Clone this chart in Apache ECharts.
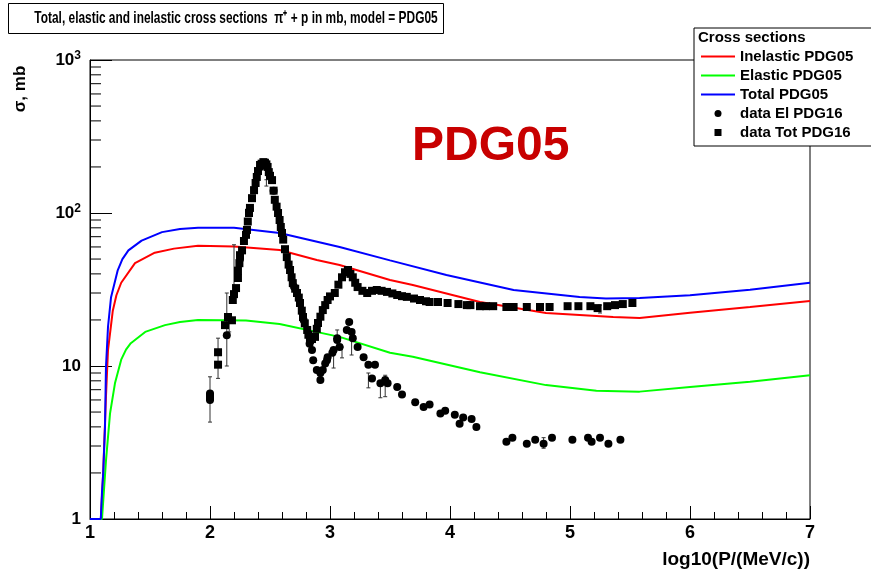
<!DOCTYPE html>
<html>
<head>
<meta charset="UTF-8">
<title>pi+ p cross sections PDG05</title>
<script src="https://cdn.jsdelivr.net/npm/echarts@6.0.0/dist/echarts.min.js"></script>
<style>
  html, body { margin: 0; padding: 0; background: #fff; }
  #chart { width: 871px; height: 578px; }
</style>
</head>
<body>
<div id="chart"></div>
<script>
// model curves [log10(P), sigma mb]
var inelastic = [[1.0, 1], [1.09, 1], [1.11, 2], [1.133, 6.3], [1.15, 12.7], [1.19, 23], [1.22, 29], [1.26, 35],
  [1.375, 47], [1.54, 55], [1.7, 58.5], [1.9, 61], [2.2, 60.5], [2.58, 57.3], [2.89, 49.3], [3.08, 45.7],
  [3.22, 42.4], [3.5, 36.5], [3.69, 33.8], [4.25, 26.2], [4.8, 22.2], [5.36, 20.9], [5.58, 20.6],
  [6.0, 22.3], [6.5, 24.3], [7.0, 26.6]];
var elastic = [[1.0, 1], [1.1, 1], [1.133, 2.4], [1.167, 4.9], [1.208, 7.7], [1.26, 11], [1.3, 12.8], [1.34, 14.1],
  [1.46, 16.7], [1.625, 18.5], [1.75, 19.4], [1.9, 20], [2.3, 19.8], [2.58, 18.8], [3.08, 15.5], [3.5, 12.2],
  [3.69, 11.5], [4.25, 9.1], [4.8, 7.5], [5.22, 6.9], [5.58, 6.8], [6.0, 7.3], [6.5, 7.9], [7.0, 8.7]];
var total = [[1.0, 1], [1.09, 1], [1.1, 1.5], [1.11, 2.0], [1.125, 4.0], [1.133, 9.8], [1.15, 18],
  [1.175, 28], [1.23, 42], [1.27, 50], [1.32, 57], [1.43, 66], [1.6, 75], [1.75, 78.5], [1.9, 80], [2.2, 80], [2.58, 74],
  [3.08, 60], [3.5, 49], [3.97, 39.3], [4.53, 31.4], [5.08, 28.2], [5.3, 27.6], [5.58, 27.8],
  [6.0, 29], [6.5, 31.5], [7.0, 35]];

// measured points
var dataTot = [[2.0, 6.3], [2.067, 10.2], [2.067, 12.3], [2.125, 18.5], [2.15, 20.9], [2.183, 19.9],
  [2.19, 27], [2.2, 29.5], [2.217, 32.3], [2.233, 37.6], [2.233, 42], [2.245, 47], [2.25, 53],
  [2.267, 57], [2.283, 65.6], [2.3, 72], [2.308, 77.5], [2.315, 88], [2.325, 100], [2.333, 108],
  [2.35, 125], [2.367, 141], [2.38, 157], [2.39, 172], [2.4, 188], [2.417, 206], [2.43, 210],
  [2.445, 215], [2.458, 213], [2.47, 208], [2.48, 200], [2.49, 185], [2.5, 175], [2.517, 164],
  [2.53, 140], [2.54, 122], [2.555, 110], [2.567, 100], [2.58, 90], [2.59, 81], [2.6, 74],
  [2.61, 67], [2.625, 58], [2.64, 51.5], [2.655, 46], [2.667, 42.4], [2.68, 38], [2.69, 34.8],
  [2.71, 32], [2.725, 30], [2.74, 28], [2.75, 25.8], [2.765, 23], [2.775, 20.9], [2.79, 19],
  [2.81, 17.2], [2.82, 16], [2.833, 14.8], [2.85, 15], [2.875, 15.5], [2.89, 17.5], [2.9, 19.1],
  [2.92, 21], [2.94, 23.2], [2.96, 25], [2.98, 27], [3.0, 28.5], [3.04, 30], [3.07, 34], [3.1, 38],
  [3.125, 41], [3.15, 42.4], [3.17, 40], [3.19, 38], [3.21, 35], [3.23, 32.8], [3.27, 31],
  [3.31, 30], [3.35, 31], [3.39, 31.4], [3.43, 31], [3.475, 30.5], [3.52, 29.8], [3.56, 29.1],
  [3.6, 28.6], [3.64, 28.3], [3.7, 27.6], [3.75, 27], [3.8, 26.5], [3.83, 26.2], [3.9, 26.2],
  [3.98, 25.8], [4.07, 25.4], [4.14, 25], [4.17, 25], [4.25, 24.6], [4.3, 24.6], [4.36, 24.6],
  [4.47, 24.3], [4.53, 24.3], [4.64, 24.3], [4.75, 24.3], [4.83, 24.3], [4.98, 24.6], [5.07, 24.6],
  [5.17, 24.6], [5.23, 23.9], [5.31, 24.6], [5.375, 25], [5.44, 25.4], [5.52, 25.8]];
var dataEl = [[2.0, 6.0], [2.0, 6.6], [2.14, 15.9], [2.25, 50], [2.33, 105], [2.42, 200], [2.47, 205],
  [2.53, 140], [2.6, 75], [2.7, 33], [2.78, 20], [2.83, 14], [2.85, 12.7], [2.86, 10.9], [2.89, 9.4],
  [2.92, 8.1], [2.92, 9], [2.94, 9.4], [2.96, 10.4], [2.975, 10.9], [2.98, 11.4], [3.02, 12.2],
  [3.03, 12.7], [3.06, 14.8], [3.06, 15.2], [3.08, 13.3], [3.14, 17.2], [3.16, 19.4], [3.18, 16.7],
  [3.19, 15.2], [3.23, 13.3], [3.28, 11.4], [3.32, 10.2], [3.35, 8.3], [3.375, 10.2], [3.42, 7.7],
  [3.46, 8.1], [3.48, 7.7], [3.56, 7.3], [3.6, 6.5], [3.71, 5.8], [3.78, 5.4], [3.83, 5.6],
  [3.92, 4.9], [3.96, 5.1], [4.04, 4.8], [4.08, 4.2], [4.11, 4.6], [4.18, 4.5], [4.22, 4.0],
  [4.47, 3.2], [4.52, 3.4], [4.64, 3.1], [4.71, 3.3], [4.78, 3.1], [4.85, 3.4], [5.02, 3.3],
  [5.15, 3.4], [5.18, 3.2], [5.25, 3.4], [5.32, 3.1], [5.42, 3.3]];
// [x, low, high]
var errBars = [[2.0, 4.3, 8.5], [2.067, 8.3, 15.2], [2.14, 10, 30], [2.16, 16.7, 22], [2.2, 30, 62],
  [2.47, 150, 165], [3.03, 9.7, 12.7], [3.06, 13.3, 17.2], [3.1, 11.3, 13.3], [3.18, 11.8, 15.2],
  [3.32, 7.2, 9.0], [3.42, 6.2, 7.9], [3.46, 6.3, 8.7], [4.78, 2.9, 3.4], [5.25, 22.2, 25]];

var yMinor = [2, 3, 4, 5, 6, 7, 8, 9, 20, 30, 40, 50, 60, 70, 80, 90, 200, 300, 400, 500, 600, 700, 800, 900];

var FONT = 'Liberation Sans';
var chart = echarts.init(document.getElementById('chart'));

function lineSeries(name, data, color) {
  return {
    name: name, type: 'line', data: data, symbol: 'none', smooth: false,
    lineStyle: { color: color, width: 2 }, itemStyle: { color: color },
    z: 3
  };
}
var hideSym = { opacity: 0 };

chart.setOption({
  animation: false,
  grid: { left: 90, right: 61, top: 60, bottom: 59, show: true, borderColor: '#000', borderWidth: 1 },
  xAxis: {
    type: 'value', min: 1, max: 7, interval: 1,
    axisLine: { lineStyle: { color: '#000' } },
    axisTick: { inside: true, length: 13, lineStyle: { color: '#000' } },
    minorTick: { show: true, splitNumber: 5, length: 7, lineStyle: { color: '#000' } },
    splitLine: { show: false },
    axisLabel: { color: '#000', fontFamily: FONT, fontWeight: 'bold', fontSize: 18, margin: 5 }
  },
  yAxis: {
    type: 'log', logBase: 10, min: 1, max: 1000,
    axisLine: { lineStyle: { color: '#000' } },
    axisTick: { inside: true, length: 22, lineStyle: { color: '#000' } },
    splitLine: { show: false },
    axisLabel: {
      color: '#000', fontFamily: FONT, fontWeight: 'bold', fontSize: 17, margin: 9,
      formatter: function (v) {
        if (v === 100) return '10{s|2}';
        if (v === 1000) return '10{s|3}';
        return String(Math.round(v));
      },
      rich: { s: { fontSize: 12, fontWeight: 'bold', fontFamily: FONT, verticalAlign: 'top', padding: [0, 0, 8, 0] } }
    }
  },
  legend: {
    left: 694, top: 28, orient: 'vertical',
    padding: [21, 30, 6, 6],
    borderColor: '#000', borderWidth: 1, backgroundColor: '#fff',
    itemWidth: 34, itemHeight: 7, itemGap: 4,
    textStyle: { color: '#000', fontFamily: FONT, fontWeight: 'bold', fontSize: 15, lineHeight: 15 },
    data: [
      { name: 'Inelastic PDG05', itemStyle: hideSym },
      { name: 'Elastic PDG05', itemStyle: hideSym },
      { name: 'Total PDG05', itemStyle: hideSym },
      { name: 'data El PDG16', icon: 'circle' },
      { name: 'data Tot PDG16', icon: 'path://M0,0h10v10h-10z' }
    ]
  },
  graphic: [
    { type: 'rect', left: 8, top: 3, shape: { width: 435, height: 30 },
      style: { fill: '#fff', stroke: '#000', lineWidth: 1 }, z: 10 },
    { type: 'text', x: 236, y: 18, scaleX: 0.7, z: 11,
      style: { text: 'Total, elastic and inelastic cross sections  \u03c0\u207a + p in mb, model = PDG05',
        fill: '#000', font: 'bold 17px ' + FONT, align: 'center', verticalAlign: 'middle' } },
    { type: 'text', x: 698, y: 38, z: 20,
      style: { text: 'Cross sections', fill: '#000', font: 'bold 15px ' + FONT, verticalAlign: 'middle' } },
    { type: 'text', x: 412, y: 147, z: 5,
      style: { text: 'PDG05', fill: '#c80000', font: 'bold 48px ' + FONT, verticalAlign: 'middle' } },
    { type: 'text', x: 810, y: 560, z: 5,
      style: { text: 'log10(P/(MeV/c))', fill: '#000', font: 'bold 19px ' + FONT, align: 'right', verticalAlign: 'middle' } },
    { type: 'text', x: 20, y: 89, rotation: Math.PI / 2, z: 5,
      style: { text: '\u03c3, mb', fill: '#000', font: 'bold 17px ' + FONT, align: 'center', verticalAlign: 'middle' } }
  ],
  series: [
    {
      type: 'custom', silent: true, z: 2,
      data: yMinor.map(function (v) { return [1, v]; }),
      renderItem: function (params, api) {
        var p = api.coord([api.value(0), api.value(1)]);
        return { type: 'line', shape: { x1: p[0], y1: p[1], x2: p[0] + 11, y2: p[1] },
          style: { stroke: '#000', lineWidth: 1 } };
      }
    },
    lineSeries('Inelastic PDG05', inelastic, '#ff0000'),
    lineSeries('Elastic PDG05', elastic, '#00ff00'),
    lineSeries('Total PDG05', total, '#0000ff'),
    {
      type: 'custom', silent: true, z: 4,
      data: errBars,
      encode: { x: 0, y: [1, 2] },
      renderItem: function (params, api) {
        var x = api.value(0);
        var lo = api.coord([x, api.value(1)]);
        var hi = api.coord([x, api.value(2)]);
        var st = { stroke: '#333', lineWidth: 1 };
        return { type: 'group', children: [
          { type: 'line', shape: { x1: lo[0], y1: lo[1], x2: hi[0], y2: hi[1] }, style: st },
          { type: 'line', shape: { x1: lo[0] - 2, y1: lo[1], x2: lo[0] + 2, y2: lo[1] }, style: st },
          { type: 'line', shape: { x1: hi[0] - 2, y1: hi[1], x2: hi[0] + 2, y2: hi[1] }, style: st }
        ] };
      }
    },
    {
      name: 'data El PDG16', type: 'scatter', data: dataEl, symbol: 'circle', symbolSize: 8,
      itemStyle: { color: '#000', opacity: 1 }, z: 5
    },
    {
      name: 'data Tot PDG16', type: 'scatter', data: dataTot, symbol: 'rect', symbolSize: 8,
      itemStyle: { color: '#000', opacity: 1 }, z: 5
    }
  ]
});
</script>
</body>
</html>
